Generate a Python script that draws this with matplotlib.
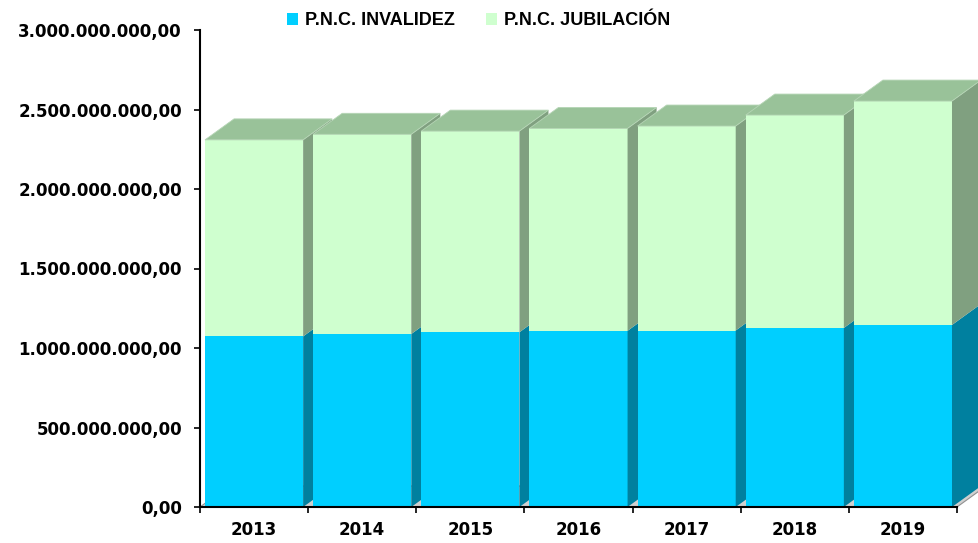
import matplotlib
matplotlib.use("Agg")
import matplotlib.pyplot as plt
from matplotlib.patches import Polygon, Patch
from matplotlib.ticker import FuncFormatter, FixedLocator, NullFormatter
import numpy as np

# === datos ===
years = ["2013", "2014", "2015", "2016", "2017", "2018", "2019"]
invalidez = [1.073e9, 1.088e9, 1.099e9, 1.108e9, 1.110e9, 1.126e9, 1.145e9]
jubilacion = [1.236e9, 1.256e9, 1.265e9, 1.273e9, 1.286e9, 1.339e9, 1.408e9]
series_names = ["P.N.C. INVALIDEZ", "P.N.C. JUBILACIÓN"]

# colores (frente, lateral)
blue_front, blue_side = "#00CFFF", "#00809F"
green_front, green_side, green_top = "#CFFFCF", "#80A080", "#99C299"

fig = plt.figure(figsize=(9.79, 5.43), dpi=100)
ax = fig.add_axes([200 / 979, 36 / 543, 757 / 979, 477 / 543])
ax.set_xlim(0, 7)
ax.set_ylim(0, 3e9)

# profundidad 3D en unidades de datos (~29 px, ~21 px)
dx = 29 / 108
dy = 21 / 159 * 1e9
w = 98 / 108

# suelo
n = len(years)
ax.add_patch(Polygon([(0, 0), (n, 0), (n + dx, dy), (dx, dy)], closed=True,
                     facecolor="#d0d0d0", edgecolor="#909090", lw=0.8,
                     clip_on=False, zorder=1))

inv = np.array(invalidez)
tot = inv + np.array(jubilacion)
for i in range(n):
    z = 2 + i * 0.1
    xc = i + 0.5
    x0, x1 = xc - w / 2, xc + w / 2
    ax.bar(xc, inv[i], width=w, color=blue_front, zorder=z, clip_on=False)
    ax.bar(xc, jubilacion[i], bottom=inv[i], width=w, color=green_front,
           zorder=z, clip_on=False)
    ax.add_patch(Polygon([(x1, 0), (x1 + dx, dy), (x1 + dx, inv[i] + dy), (x1, inv[i])],
                         closed=True, facecolor=blue_side, lw=0, zorder=z, clip_on=False))
    ax.add_patch(Polygon([(x1, inv[i]), (x1 + dx, inv[i] + dy), (x1 + dx, tot[i] + dy), (x1, tot[i])],
                         closed=True, facecolor=green_side, lw=0, zorder=z, clip_on=False))
    ax.add_patch(Polygon([(x0, tot[i]), (x1, tot[i]), (x1 + dx, tot[i] + dy), (x0 + dx, tot[i] + dy)],
                         closed=True, facecolor=green_top, edgecolor="#b5d5b5", lw=0.6,
                         zorder=z, clip_on=False))

# ejes
for s in ["top", "right"]:
    ax.spines[s].set_visible(False)
for s in ["left", "bottom"]:
    ax.spines[s].set_linewidth(1.5)
    ax.spines[s].set_zorder(10)


def fmt_es(v, pos):
    return f"{v:,.2f}".replace(",", "X").replace(".", ",").replace("X", ".")


ax.yaxis.set_major_locator(FixedLocator(np.arange(0, 3.01e9, 5e8)))
ax.yaxis.set_major_formatter(FuncFormatter(fmt_es))
ax.tick_params(axis="y", direction="out", length=4.5, width=1.2, pad=8.5,
               labelsize=12)
ax.xaxis.set_major_locator(FixedLocator(np.arange(0, n + 1)))
ax.xaxis.set_major_formatter(NullFormatter())
ax.xaxis.set_minor_locator(FixedLocator(np.arange(n) + 0.5))
ax.set_xticklabels(years, minor=True)
ax.tick_params(axis="x", which="major", direction="out", length=4.5, width=1.2)
ax.tick_params(axis="x", which="minor", length=0, pad=10, labelsize=12)
for lab in ax.get_yticklabels() + ax.get_xticklabels(minor=True):
    lab.set_fontweight("bold")
    lab.set_family("DejaVu Sans")

# leyenda
handles = [Patch(facecolor=blue_front), Patch(facecolor=green_front)]
leg = fig.legend(handles, series_names, loc="upper left", ncol=2,
                 bbox_to_anchor=(271 / 979, 1.0 + 4 / 543), frameon=False,
                 handlelength=0.6, handleheight=0.6, handletextpad=0.4,
                 columnspacing=1.7,
                 prop={"family": "Liberation Sans", "weight": "bold", "size": 13})

fig.savefig("out.png", dpi=100)
